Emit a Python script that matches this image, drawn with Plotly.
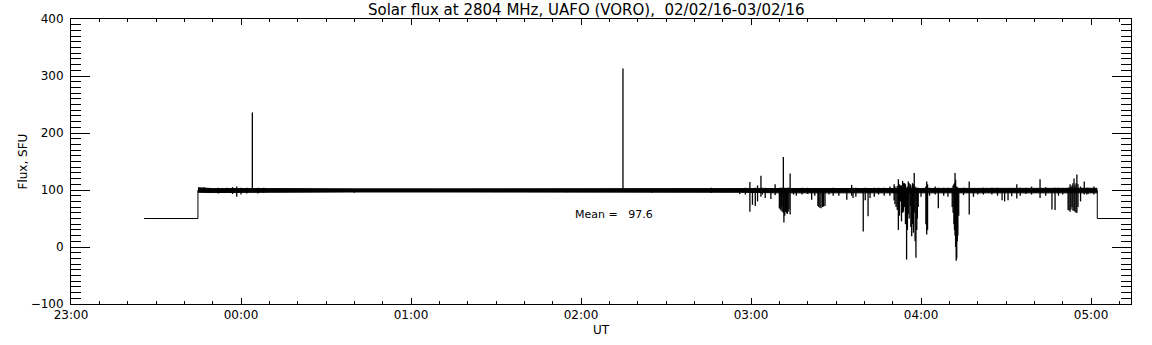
import pandas as pd
import plotly.graph_objects as go

# ---- data (minutes after 2016-02-02 23:00 UT, flux in SFU) ----
step_pre_t = [25.8, 44.8, 44.8]
step_pre_v = [50, 50, 100]
step_post_t = [362.2, 362.2, 376.0]
step_post_v = [100, 50, 50]

band_t = [44.8, 50, 70, 80, 100, 130, 160, 190, 210, 230, 236, 250, 280, 300, 330, 362.2]
band_lo = [96, 95.5, 96, 96.5, 96.5, 96.5, 96.5, 97, 97, 97, 96, 95, 95, 95, 95, 95]
band_hi = [104, 102.5, 102.5, 102, 102, 102, 102, 102.5, 102.5, 102.5, 103, 103, 103, 103, 103, 103]

spk_t = [47, 52, 55, 57, 58.5, 60.0, 62, 64.0, 66, 68, 100, 150, 175, 194.8, 205, 215, 226, 232,
         236, 238, 239.6, 240.5, 241.5, 242.3, 243.5, 244, 245.0, 247, 248.5, 250.0, 250.3, 250.6,
         250.8, 251.0, 251.4, 251.6, 251.9, 252.2, 252.5, 252.8, 253.1, 253.4, 253.8, 255, 256,
         258, 260, 261.4, 262.5, 263.6, 263.9, 264.3, 264.7, 265.2, 265.6, 266.1,
         267.5, 269, 271, 273.8, 275.5, 276, 277, 279.6, 280.3, 281.3, 282, 283.5, 285, 287, 289,
         290.5, 290.8, 291.2, 291.6, 292, 292.4, 292.8, 293.1, 293.5, 293.8, 294.2, 294.5, 294.9,
         295.2, 295.5, 295.8, 296.2, 296.4, 296.7, 297.0, 297.3, 297.6, 297.9, 298.2, 298.5, 298.7,
         299.0, 300, 301.7, 302, 302.3, 303, 305, 306.1, 308, 309.5, 311, 311.3, 311.6, 311.8, 312,
         312.2, 312.4, 312.6, 312.8, 313.0, 313.3, 315, 317,
         318.5, 320, 322, 325, 327, 328.6, 329.5, 330.7, 332, 333.8, 335, 337, 339, 342, 344,
         346.2, 347.3, 348.5, 350, 351.9, 352.2, 352.6, 352.9, 353.3, 353.6, 354, 354.3, 354.7,
         355, 355.4, 356.3, 357.6, 358.5, 359, 361]
spk_lo = [95, 94, 95, 93, 88, 92, 94, 97, 94, 95, 95, 96, 96, 97, 95, 96, 95, 96,
          93, 92, 62, 74, 72, 80, 88, 92, 86, 84, 91, 68, 66, 64,
          70, 62, 60, 43, 55, 62, 60, 58, 62, 66, 57, 92, 90,
          92, 93, 83, 90, 72, 70, 69, 68, 70, 71, 72,
          92, 90, 90, 83, 90, 86, 88, 27, 82, 54, 86, 88, 92, 90, 90,
          82, 75, 70, 65, 30, 55, 80, 45, 60, 62, 70, 40, -22,
          30, 58, 50, 72, 35, 19, 40, 25, 60, 10, -19, 30, 50,
          70, 88, 40, 22, 30, 90, 92, 68, 90, 88, 70, 60, 40, 30, 20,
          0, -24, -20, 10, 20, 55, 91, 57,
          88, 92, 92, 92, 90, 82, 80, 82, 89, 85, 90, 93, 92, 86, 90,
          66, 65, 90, 92, 65, 64, 62, 66, 70, 64, 63, 62, 60,
          60, 70, 80, 92, 92, 93, 92]
spk_hi = [105, 104, 104, 105, 106, 104, 104, 236, 104, 104, 101, 101, 102, 313, 102, 103, 104, 103,
          103, 104, 114, 103, 104, 108, 125, 104, 104, 103, 110, 103, 104, 104,
          102, 104, 158, 100, 104, 103, 103, 104, 104, 104, 129, 103, 102,
          104, 104, 102, 103, 102, 102, 101, 103, 102, 102, 102,
          103, 104, 103, 102, 109, 104, 104, 102, 104, 102, 103, 104, 104, 104, 106,
          110, 106, 103, 107, 119, 110, 108, 108, 116, 112, 112, 110, 104,
          106, 115, 112, 110, 108, 104, 112, 110, 130, 106, 104, 104, 103,
          104, 103, 106, 115, 110, 104, 106, 104, 104, 104, 104, 108, 110, 112, 130,
          118, 104, 106, 104, 104, 103, 104, 115,
          103, 103, 104, 104, 104, 103, 102, 103, 103, 110, 104, 104, 106, 119, 105,
          103, 104, 104, 103, 104, 104, 110, 106, 108, 112, 120, 108, 112,
          127, 110, 106, 115, 104, 104, 106]

mean_text = "Mean =\u00a0\u00a0\u00a097.6"
mean_t, mean_v = 177.2, 57

x_ticks_minutes = [0, 60, 120, 180, 240, 300, 360]
x_range_minutes = [0, 374.1]
y_range = [-100, 400]

title_text = "Solar flux at 2804 MHz, UAFO (VORO),\u00a0\u00a002/02/16-03/02/16"

base = pd.Timestamp("2016-02-02 23:00")


def tt(mins):
    return [base + pd.to_timedelta(m, unit="min") for m in mins]


# build vertical segments for excursions
sx, sy = [], []
for t, lo, hi in zip(spk_t, spk_lo, spk_hi):
    ts = base + pd.to_timedelta(t, unit="min")
    sx += [ts, ts, None]
    sy += [hi, lo, None]

fig = go.Figure()
line = dict(color="black", width=1)
fig.add_trace(go.Scatter(x=tt(step_pre_t), y=step_pre_v, mode="lines", line=line, showlegend=False))
fig.add_trace(go.Scatter(x=tt(step_post_t), y=step_post_v, mode="lines", line=line, showlegend=False))
fig.add_trace(go.Scatter(x=tt(band_t), y=band_hi, mode="lines", line=line, showlegend=False))
fig.add_trace(go.Scatter(x=tt(band_t), y=band_lo, mode="lines", line=line, fill="tonexty",
                         fillcolor="black", showlegend=False))
fig.add_trace(go.Scatter(x=sx, y=sy, mode="lines", line=dict(color="black", width=1.3),
                         connectgaps=False, showlegend=False))

font = dict(family="DejaVu Sans", size=12, color="black")

fig.add_annotation(x=tt([mean_t])[0], y=mean_v, text=mean_text, showarrow=False,
                   xanchor="left", yanchor="middle", font=dict(family="DejaVu Sans", size=11, color="black"))
fig.add_annotation(x=0.486, y=1, xref="paper", yref="paper", text=title_text, showarrow=False,
                   xanchor="center", yanchor="top", yshift=19, borderpad=0,
                   font=dict(family="DejaVu Sans", size=15, color="black"))
fig.add_annotation(x=0.5, y=0, xref="paper", yref="paper", text="UT", showarrow=False,
                   xanchor="center", yanchor="middle", yshift=-26, font=font)
fig.add_annotation(x=0, y=0.5, xref="paper", yref="paper", text="Flux, SFU", showarrow=False,
                   textangle=-90, xanchor="center", yanchor="middle", xshift=-49, font=font)

fig.update_xaxes(
    type="date", range=tt(x_range_minutes), tickvals=tt(x_ticks_minutes), tickformat="%H:%M",
    ticks="inside", ticklen=6, tickwidth=1, tickcolor="black",
    showline=True, linecolor="black", linewidth=1, mirror="ticks",
    showgrid=False, zeroline=False,
    minor=dict(ticks="inside", ticklen=3, dtick=600000, tickcolor="black", showgrid=False),
    tickfont=font,
)
fig.update_yaxes(
    range=y_range, dtick=100, tick0=0,
    ticks="inside", ticklen=19, tickwidth=1, tickcolor="black",
    showline=True, linecolor="black", linewidth=1, mirror="ticks",
    showgrid=False, zeroline=False,
    minor=dict(ticks="inside", ticklen=10, dtick=10, tickcolor="black", showgrid=False),
    tickfont=font, ticklabelstandoff=4,
)
fig.update_layout(
    width=1152, height=345,
    margin=dict(l=71, r=21, t=19, b=41),
    paper_bgcolor="white", plot_bgcolor="white",
    font=font,
)
# remove the browser's default page margin so the figure fills the window exactly
fig.write_html("out.html", config={"displayModeBar": False},
               post_script="document.body.style.margin='0';")
